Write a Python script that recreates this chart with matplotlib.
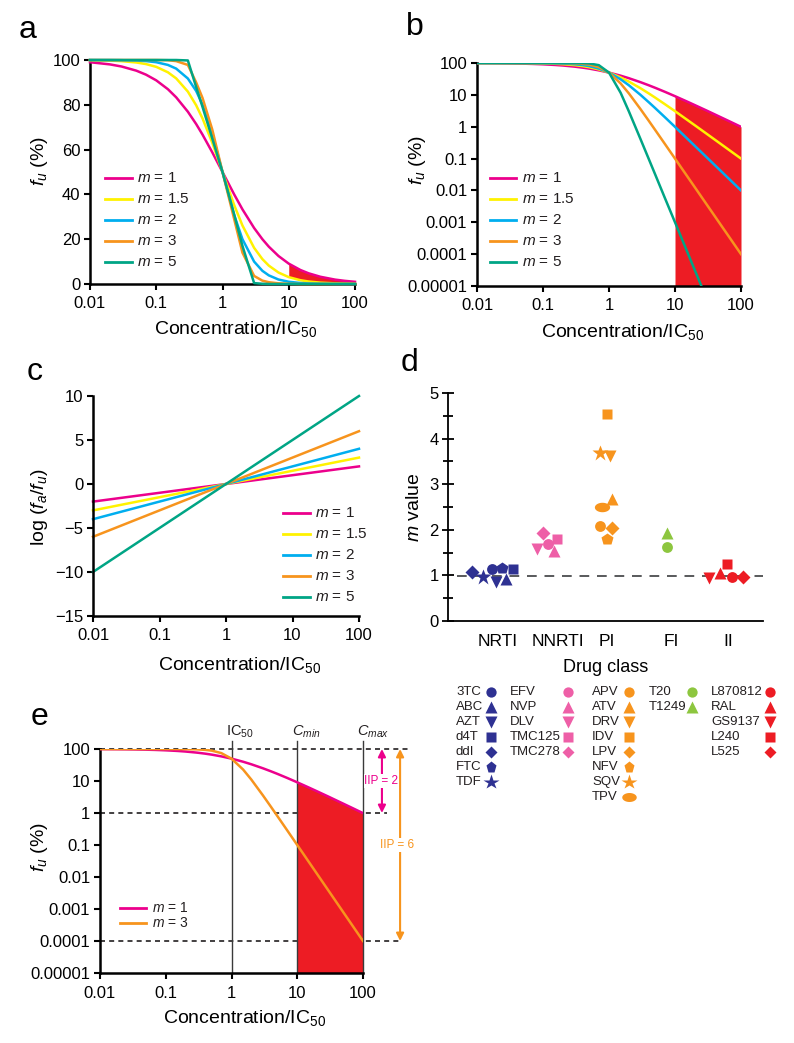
import numpy as np
import matplotlib
matplotlib.use('Agg')
import matplotlib.pyplot as plt
from matplotlib.path import Path
from matplotlib.ticker import NullLocator, MultipleLocator

plt.rcParams['font.family'] = ['Liberation Sans', 'DejaVu Sans']
plt.rcParams['mathtext.fontset'] = 'custom'
plt.rcParams['mathtext.rm'] = 'Liberation Sans'
plt.rcParams['mathtext.it'] = 'Liberation Sans:italic'
plt.rcParams['mathtext.bf'] = 'Liberation Sans:bold'

# ---------------- data ----------------
conc = [0.01, 0.02, 0.03, 0.05, 0.07, 0.1, 0.15, 0.2, 0.3, 0.4, 0.5, 0.7, 1,
        1.5, 2, 3, 4, 5, 7, 10, 15, 20, 30, 50, 70, 100]
m_labels = ['1', '1.5', '2', '3', '5']

# fu (%) for m = 1, 1.5, 2 (panels a, b, e)
fu_m1 = [99.01, 98.04, 97.09, 95.24, 93.46, 90.91, 86.96, 83.33, 76.92, 71.43, 66.67, 58.82, 50,
         40.0, 33.33, 25.0, 20.0, 16.67, 12.5, 9.09, 6.25, 4.76, 3.23, 1.96, 1.41, 0.99]
fu_m15 = [99.9, 99.72, 99.48, 98.89, 98.18, 96.94, 94.51, 91.79, 85.89, 79.81, 73.87, 63.07, 50,
          35.25, 26.12, 16.14, 11.11, 8.21, 5.12, 3.07, 1.69, 1.106, 0.605, 0.282, 0.1704, 0.0999]
fu_m2 = [99.99, 99.96, 99.91, 99.75, 99.51, 99.01, 97.8, 96.15, 91.74, 86.21, 80.0, 67.11, 50,
         30.77, 20.0, 10.0, 5.88, 3.85, 2.0, 0.99, 0.442, 0.249, 0.111, 0.04, 0.0204, 0.01]

# panel a: m = 3 and m = 5 as read on the linear axis
fu_a_m3 = [100, 100, 100, 100, 100, 100, 99.9, 99.5, 97.8, 90.0, 83.0, 69.0, 50,
           29.0, 14.0, 3.6, 1.5, 0.8, 0.3, 0.1, 0, 0, 0, 0, 0, 0]
fu_a_m5 = [100, 100, 100, 100, 100, 100, 100, 100, 99.8, 88.0, 79.0, 65.0, 50,
           31.0, 17.0, 0.4, 0.1, 0, 0, 0, 0, 0, 0, 0, 0, 0]

# panels b / e: m = 3 and m = 5 as read on the log axis
fu_b_m3 = [100, 100, 100, 99.99, 99.97, 99.9, 99.66, 99.21, 97.37, 93.98, 88.89, 74.46, 50,
           22.86, 11.11, 3.57, 1.54, 0.794, 0.291, 0.0999, 0.0296, 0.0125, 0.0037, 0.0008, 0.000292, 0.0001]
fu_b_m5 = [100, 100, 100, 100, 100, 100, 99.99, 99.97, 99.76, 98.99, 96.97, 85.61, 50,
           11.63, 3.03, 0.41, 0.0976, 0.032, 0.0059, 0.001, 1.32e-4, 3.1e-5, 4.1e-6, 3.2e-7, 6e-8, 1e-8]

# panel c: log(fa/fu) at the two ends of the axis
c_conc = [0.01, 100]
c_low = [-2, -3, -4, -6, -10]
c_high = [2, 3, 4, 6, 10]

# panel d: m values per drug class
classes = ['NRTI', 'NNRTI', 'PI', 'FI', 'II']
nrti_names = ['3TC', 'ABC', 'AZT', 'd4T', 'ddI', 'FTC', 'TDF']
nrti_m = [1.15, 0.93, 0.86, 1.13, 1.07, 1.17, 0.97]
nnrti_names = ['EFV', 'NVP', 'DLV', 'TMC125', 'TMC278']
nnrti_m = [1.69, 1.54, 1.57, 1.80, 1.93]
pi_names = ['APV', 'ATV', 'DRV', 'IDV', 'LPV', 'NFV', 'SQV', 'TPV']
pi_m = [2.09, 2.67, 3.62, 4.53, 2.04, 1.80, 3.69, 2.50]
fi_names = ['T20', 'T1249']
fi_m = [1.63, 1.93]
ii_names = ['L870812', 'RAL', 'GS9137', 'L240', 'L525']
ii_m = [0.97, 1.06, 0.95, 1.24, 0.97]

x_ticks = [0.01, 0.1, 1, 10, 100]
x_ticklabels = ['0.01', '0.1', '1', '10', '100']
log_yticks = [1e-5, 1e-4, 1e-3, 1e-2, 0.1, 1, 10, 100]
log_yticklabels = ['0.00001', '0.0001', '0.001', '0.01', '0.1', '1', '10', '100']

# ---------------- styles ----------------
PINK = '#EC008C'
YELLOW = '#FFF200'
CYAN = '#00AEEF'
ORANGE = '#F7941D'
GREEN = '#00A585'
RED = '#ED1C24'
m_colors = [PINK, YELLOW, CYAN, ORANGE, GREEN]

W, H = 794, 1043
fig = plt.figure(figsize=(W / 100, H / 100), dpi=100)


def box(l, r, t, b):
    return [l / W, 1 - b / H, (r - l) / W, (b - t) / H]


def style(ax, lw=1.8):
    for s in ['top', 'right']:
        ax.spines[s].set_visible(False)
    for s in ['left', 'bottom']:
        ax.spines[s].set_linewidth(lw)
    ax.tick_params(width=1.5, length=4, labelsize=12, direction='out', pad=3)
    ax.tick_params(axis='x', pad=5)


def conc_axis(ax):
    ax.set_xscale('log')
    ax.set_xlim(0.01, 100)
    ax.set_xticks(x_ticks)
    ax.set_xticklabels(x_ticklabels)
    ax.xaxis.set_minor_locator(NullLocator())
    ax.set_xlabel('Concentration/IC$_{50}$', fontsize=14)


def line_legend(ax, x0, y0, dy, labels, colors, fs=11, length=0.1):
    for i, (lab, col) in enumerate(zip(labels, colors)):
        y = y0 - i * dy
        ax.plot([x0, x0 + length], [y, y], color=col, lw=2, transform=ax.transAxes, clip_on=False)
        ax.text(x0 + length + 0.02, y, '$m$ = ' + lab, transform=ax.transAxes,
                fontsize=fs, va='center', ha='left', color='#231F20')


# ---------------- panel a ----------------
axa = fig.add_axes(box(90, 355, 60, 284))
style(axa)
conc_axis(axa)
axa.set_ylim(0, 100)
axa.set_yticks([0, 20, 40, 60, 80, 100])
ca = np.array(conc)
sel = ca >= 10
axa.fill_between(ca[sel], np.array(fu_m15)[sel], np.array(fu_m1)[sel], color=RED, lw=0, zorder=2)
for vals, col in zip([fu_m1, fu_m15, fu_m2, fu_a_m3, fu_a_m5], m_colors):
    axa.plot(conc, vals, color=col, lw=1.8, zorder=3, clip_on=False)
axa.set_ylabel('$f_u$ (%)', fontsize=14)
axa.yaxis.set_label_coords(-0.15, 0.55)
axa.xaxis.set_label_coords(0.55, -0.155)
line_legend(axa, 0.057, 0.472, 0.094, m_labels, m_colors)

# ---------------- panel b ----------------
axb = fig.add_axes(box(477, 741, 63, 286))
style(axb)
conc_axis(axb)
axb.set_yscale('log')
axb.set_ylim(1e-5, 100)
axb.set_yticks(log_yticks)
axb.set_yticklabels(log_yticklabels)
axb.yaxis.set_minor_locator(NullLocator())
cb = np.array(conc)
axb.fill_between(cb[cb >= 10], 1e-5, np.array(fu_m1)[cb >= 10], color=RED, lw=0, zorder=2)
for vals, col in zip([fu_m1, fu_m15, fu_m2, fu_b_m3, fu_b_m5], m_colors):
    axb.plot(conc, vals, color=col, lw=1.8, zorder=3)
axb.set_ylabel('$f_u$ (%)', fontsize=14)
axb.yaxis.set_label_coords(-0.186, 0.565)
axb.xaxis.set_label_coords(0.55, -0.161)
line_legend(axb, 0.049, 0.485, 0.094, m_labels, m_colors)

# ---------------- panel c ----------------
axc = fig.add_axes(box(93, 359, 396, 616))
style(axc)
conc_axis(axc)
axc.set_ylim(-15, 10)
axc.set_yticks([-15, -10, -5, 0, 5, 10])
for lo, hi, col in zip(c_low, c_high, m_colors):
    axc.plot(c_conc, [lo, hi], color=col, lw=1.8, clip_on=False)
axc.set_ylabel('log ($f_a$/$f_u$)', fontsize=14)
axc.yaxis.set_label_coords(-0.162, 0.495)
axc.xaxis.set_label_coords(0.55, -0.177)
line_legend(axc, 0.714, 0.468, 0.095, m_labels, m_colors)

# ---------------- panel d ----------------
axd = fig.add_axes(box(448, 763, 393, 621))
for s in ['top', 'right']:
    axd.spines[s].set_visible(False)
axd.spines['left'].set_linewidth(1.3)
axd.spines['bottom'].set_linewidth(1.3)
axd.set_ylim(0, 5)
axd.set_xlim(0, 5.53)
axd.set_yticks([0, 1, 2, 3, 4, 5])
axd.yaxis.set_minor_locator(MultipleLocator(0.5))
axd.tick_params(axis='y', which='major', direction='inout', length=9, width=1.3, labelsize=12, pad=2)
axd.tick_params(axis='y', which='minor', direction='inout', length=7, width=1.3)
class_pos = [0.88, 1.93, 2.79, 3.92, 4.92]
axd.set_xticks(class_pos)
axd.set_xticklabels(classes, fontsize=12.5)
axd.tick_params(axis='x', length=0, pad=9)
axd.set_ylabel('$m$ value', fontsize=14)
axd.yaxis.set_label_coords(-0.079, 0.5)
axd.set_xlabel('Drug class', fontsize=13)
axd.xaxis.set_label_coords(0.5, -0.168)
axd.axhline(0.98, xmin=0.03, xmax=1.0, color='#58595B', lw=1.4, dashes=(5, 4), zorder=1)

t = np.linspace(0, 2 * np.pi, 41)
ellipse = Path(np.column_stack([np.cos(t), 0.62 * np.sin(t)]), closed=True)
shape = {'o': ('o', 7.8), '^': ('^', 8.6), 'v': ('v', 8.6), 's': ('s', 7.2), 'D': ('D', 6.8),
         'p': ('p', 8.6), '*': ('*', 12), 'e': (ellipse, 11)}
groups = [
    (nrti_m, ['o', '^', 'v', 's', 'D', 'p', '*'], '#2E3192', [-0.11, 0.14, -0.04, 0.26, -0.465, 0.06, -0.26]),
    (nnrti_m, ['o', '^', 'v', 's', 'D'], '#EE5FA7', [-0.17, -0.07, -0.37, -0.01, -0.26]),
    (pi_m, ['o', '^', 'v', 's', 'D', 'p', '*', 'e'], ORANGE, [-0.12, 0.09, 0.06, 0.0, 0.09, 0.0, -0.12, -0.09]),
    (fi_m, ['o', '^'], '#8DC63F', [-0.08, -0.08]),
    (ii_m, ['o', '^', 'v', 's', 'D'], RED, [0.06, -0.15, -0.34, -0.02, 0.26]),
]
for (vals, marks, col, offs), xc in zip(groups, class_pos):
    for v, mk, off in zip(vals, marks, offs):
        m, ms = shape[mk]
        axd.plot(xc + off, v, marker=m, ms=ms, color=col, mec='none', ls='none', zorder=3, clip_on=False)

# ---------------- panel e ----------------
axe = fig.add_axes(box(100, 363, 749, 973))
style(axe)
conc_axis(axe)
axe.set_yscale('log')
axe.set_ylim(1e-5, 100)
axe.set_yticks(log_yticks)
axe.set_yticklabels(log_yticklabels)
axe.yaxis.set_minor_locator(NullLocator())
ce = np.array(conc)
axe.fill_between(ce[ce >= 10], 1e-5, np.array(fu_m1)[ce >= 10], color=RED, lw=0, zorder=2)
axe.plot(conc, fu_m1, color=PINK, lw=1.8, zorder=3)
axe.plot(conc, fu_b_m3, color=ORANGE, lw=1.8, zorder=3)
yt = axe.get_yaxis_transform()
for yv, xend in [(100, 1.18), (1, 1.09), (1e-4, 1.14)]:
    axe.plot([0, xend], [yv, yv], transform=yt, color='#231F20', lw=1.2, dashes=(3, 2.5),
             clip_on=False, zorder=1)
for xv, lab in zip([1, 10, 100], ['IC$_{50}$', '$C_{min}$', '$C_{max}$']):
    axe.axvline(xv, ymin=0, ymax=1.035, color='#3A3A3A', lw=1.0, clip_on=False, zorder=2.5)
    axe.annotate(lab, xy=(xv, 1.04), xycoords=axe.get_xaxis_transform(), xytext=(-4, 0),
                 textcoords='offset points', ha='left', va='bottom', fontsize=10.5, color='#231F20')
axe.annotate('', xy=(1.072, 1), xytext=(1.072, 100), xycoords=yt, textcoords=yt,
             arrowprops=dict(arrowstyle='<|-|>', color=PINK, lw=1.5, mutation_scale=11,
                             shrinkA=0, shrinkB=0))
axe.annotate('', xy=(1.141, 1e-4), xytext=(1.141, 100), xycoords=yt, textcoords=yt,
             arrowprops=dict(arrowstyle='<|-|>', color=ORANGE, lw=1.5, mutation_scale=11,
                             shrinkA=0, shrinkB=0))
axe.text(1.07, 10, 'IIP = 2', transform=yt, ha='center', va='center', fontsize=8.5, color=PINK,
         zorder=5, bbox=dict(fc='white', ec='none', pad=0.6))
axe.text(1.13, 0.1, 'IIP = 6', transform=yt, ha='center', va='center', fontsize=8.5, color=ORANGE,
         zorder=5, bbox=dict(fc='white', ec='none', pad=0.6))
axe.set_ylabel('$f_u$ (%)', fontsize=14)
axe.yaxis.set_label_coords(-0.19, 0.5625)
axe.xaxis.set_label_coords(0.55, -0.156)
line_legend(axe, 0.076, 0.29, 0.067, ['1', '3'], [PINK, ORANGE], fs=10)

# ---------------- drug table (panel d key) ----------------
lax = fig.add_axes([0, 0, 1, 1], facecolor='none')
lax.set_xlim(0, W)
lax.set_ylim(H, 0)
lax.axis('off')
table = [
    (nrti_names, groups[0][1], groups[0][2], 456, 491),
    (nnrti_names, groups[1][1], groups[1][2], 510, 568),
    (pi_names, groups[2][1], groups[2][2], 592, 629),
    (fi_names, groups[3][1], groups[3][2], 649, 692),
    (ii_names, groups[4][1], groups[4][2], 711, 770),
]
for names, marks, col, xn, xm in table:
    for i, (nm, mk) in enumerate(zip(names, marks)):
        y = 692 + i * 15
        lax.text(xn, y, nm, fontsize=9.5, va='center', ha='left', color='#231F20')
        m, ms = shape[mk]
        lax.plot(xm, y, marker=m, ms=ms * 0.95, color=col, mec='none', ls='none')

# panel letters
for lab, x, y in [('a', 28, 30), ('b', 415, 27), ('c', 35, 372), ('d', 410, 363), ('e', 40, 717)]:
    fig.text(x / W, 1 - y / H, lab, fontsize=23, ha='center', va='center')

fig.savefig('out.png', dpi=100)
